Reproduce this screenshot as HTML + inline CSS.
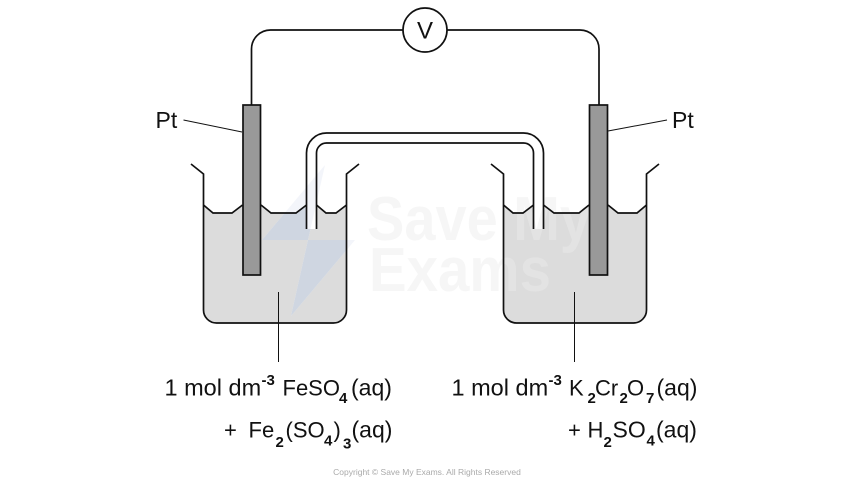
<!DOCTYPE html>
<html><head><meta charset="utf-8"><style>
html,body{margin:0;padding:0;background:#fff;width:854px;height:480px;overflow:hidden}
svg{display:block}
text{font-family:"Liberation Sans",sans-serif;fill:#111}
.t{font-size:22px}
.b{font-size:23px}
.m{font-size:23.500px}
.s{font-size:15px;font-weight:bold}
</style></head><body>
<svg width="854" height="480" viewBox="0 0 854 480">
<defs>
<clipPath id="liq"><path d="M203.500 205 L213 213 H232 L242.500 205 H261 L271 213 H296 L306.500 205 V229 H316.500 V205 L326 213 H336 L346.500 205 V310 A13 13 0 0 1 333.500 323 H216.500 A13 13 0 0 1 203.500 310 Z"/></clipPath>
</defs>

<!-- liquid -->
<path d="M203.500 205 L213 213 H232 L242.500 205 H261 L271 213 H296 L306.500 205 V229 H316.500 V205 L326 213 H336 L346.500 205 V310 A13 13 0 0 1 333.500 323 H216.500 A13 13 0 0 1 203.500 310 Z" fill="#dcdcdc"/>
<path d="M503.500 205 L513 213 H523 L533.500 205 V229 H543.500 V205 L554 213 H579 L589 205 H608 L618 213 H637 L646.500 205 V310 A13 13 0 0 1 633.500 323 H516.500 A13 13 0 0 1 503.500 310 Z" fill="#dcdcdc"/>

<!-- watermark text -->
<text x="367" y="240" textLength="224" lengthAdjust="spacingAndGlyphs" style="font-size:62px;font-weight:bold;fill:#ececec;fill-opacity:.45">Save My</text>
<text x="369" y="291" textLength="182" lengthAdjust="spacingAndGlyphs" style="font-size:62px;font-weight:bold;fill:#ececec;fill-opacity:.45">Exams</text>

<!-- logo watermark -->
<g fill="#f3f5fa">
<path d="M325 165 L262 240 H308 Z"/>
<path d="M308 240 H355 L291 316 Z"/>
</g>
<g clip-path="url(#liq)" fill="#cfd6e1">
<path d="M325 165 L262 240 H308 Z"/>
<path d="M308 240 H355 L291 316 Z"/>
</g>

<g fill="none" stroke="#111" stroke-width="1.700">
<!-- left beaker -->
<path d="M191 164 L203.500 174 V310 A13 13 0 0 0 216.500 323 H333.500 A13 13 0 0 0 346.500 310 V174 L359 164"/>
<path d="M203.500 205 L213 213 H232 L242.500 205"/>
<path d="M261 205 L271 213 H296 L306.500 205"/>
<path d="M316.500 205 L326 213 H336 L346.500 205"/>
<!-- right beaker -->
<path d="M491 164 L503.500 174 V310 A13 13 0 0 0 516.500 323 H633.500 A13 13 0 0 0 646.500 310 V174 L659 164"/>
<path d="M503.500 205 L513 213 H523 L533.500 205"/>
<path d="M543.500 205 L554 213 H579 L589 205"/>
<path d="M608 205 L618 213 H637 L646.500 205"/>
<!-- salt bridge -->
<path d="M306.500 229 V153 A20 20 0 0 1 326.500 133 H523.500 A20 20 0 0 1 543.500 153 V229"/>
<path d="M316.500 229 V153 A10 10 0 0 1 326.500 143 H523.500 A10 10 0 0 1 533.500 153 V229"/>
<!-- circuit -->
<path d="M251.500 105 V49 A19 19 0 0 1 270.500 30 H403"/>
<path d="M447 30 H580 A19 19 0 0 1 599 49 V105"/>
<circle cx="425" cy="30" r="22"/>
</g>

<!-- electrodes -->
<rect x="243" y="105" width="17.500" height="170" fill="#999" stroke="#111" stroke-width="1.700"/>
<rect x="589.500" y="105" width="18" height="170" fill="#999" stroke="#111" stroke-width="1.700"/>

<!-- leaders -->
<g fill="none" stroke="#111" stroke-width="1">
<path d="M183.500 120 L242 132"/>
<path d="M608 131 L667 120"/>
<path d="M278.500 292 V362"/>
<path d="M574.500 292 V362"/>
</g>

<text x="417" y="38.500" style="font-size:24px">V</text>
<text x="155.500" y="128" class="b">Pt</text>
<text x="672" y="128" class="b">Pt</text>

<!-- left labels -->
<text x="164.500" y="395.500" class="m">1 mol dm</text>
<text x="261.500" y="385" class="s">-3</text>
<text x="282.500" y="395.500" class="t">FeSO</text>
<text x="339" y="403" class="s">4</text>
<text x="351" y="395.500" class="b">(aq)</text>
<text x="224" y="437.500" class="t">+</text>
<text x="248.500" y="437.500" class="t">Fe</text>
<text x="275.500" y="447" class="s">2</text>
<text x="285.500" y="437.500" class="t">(SO</text>
<text x="324" y="445.500" class="s">4</text>
<text x="333.500" y="437.500" class="t">)</text>
<text x="343" y="448.500" class="s">3</text>
<text x="351.500" y="437.500" class="b">(aq)</text>

<!-- right labels -->
<text x="451.500" y="395.500" class="m">1 mol dm</text>
<text x="548.500" y="385" class="s">-3</text>
<text x="569" y="395.500" class="t">K</text>
<text x="587.500" y="403" class="s">2</text>
<text x="595" y="395.500" class="t">Cr</text>
<text x="619.500" y="403" class="s">2</text>
<text x="627" y="395.500" class="t">O</text>
<text x="646" y="403" class="s">7</text>
<text x="656.500" y="395.500" class="b">(aq)</text>
<text x="568" y="437.500" class="t">+</text>
<text x="587.500" y="437.500" class="t">H</text>
<text x="603.500" y="447" class="s">2</text>
<text x="612.500" y="437.500" class="b">SO</text>
<text x="646.500" y="445.500" class="s">4</text>
<text x="656" y="437.500" class="b">(aq)</text>

<text x="427" y="475" text-anchor="middle" style="font-size:8.500px;fill:#aaa">Copyright © Save My Exams. All Rights Reserved</text>
</svg>
</body></html>
